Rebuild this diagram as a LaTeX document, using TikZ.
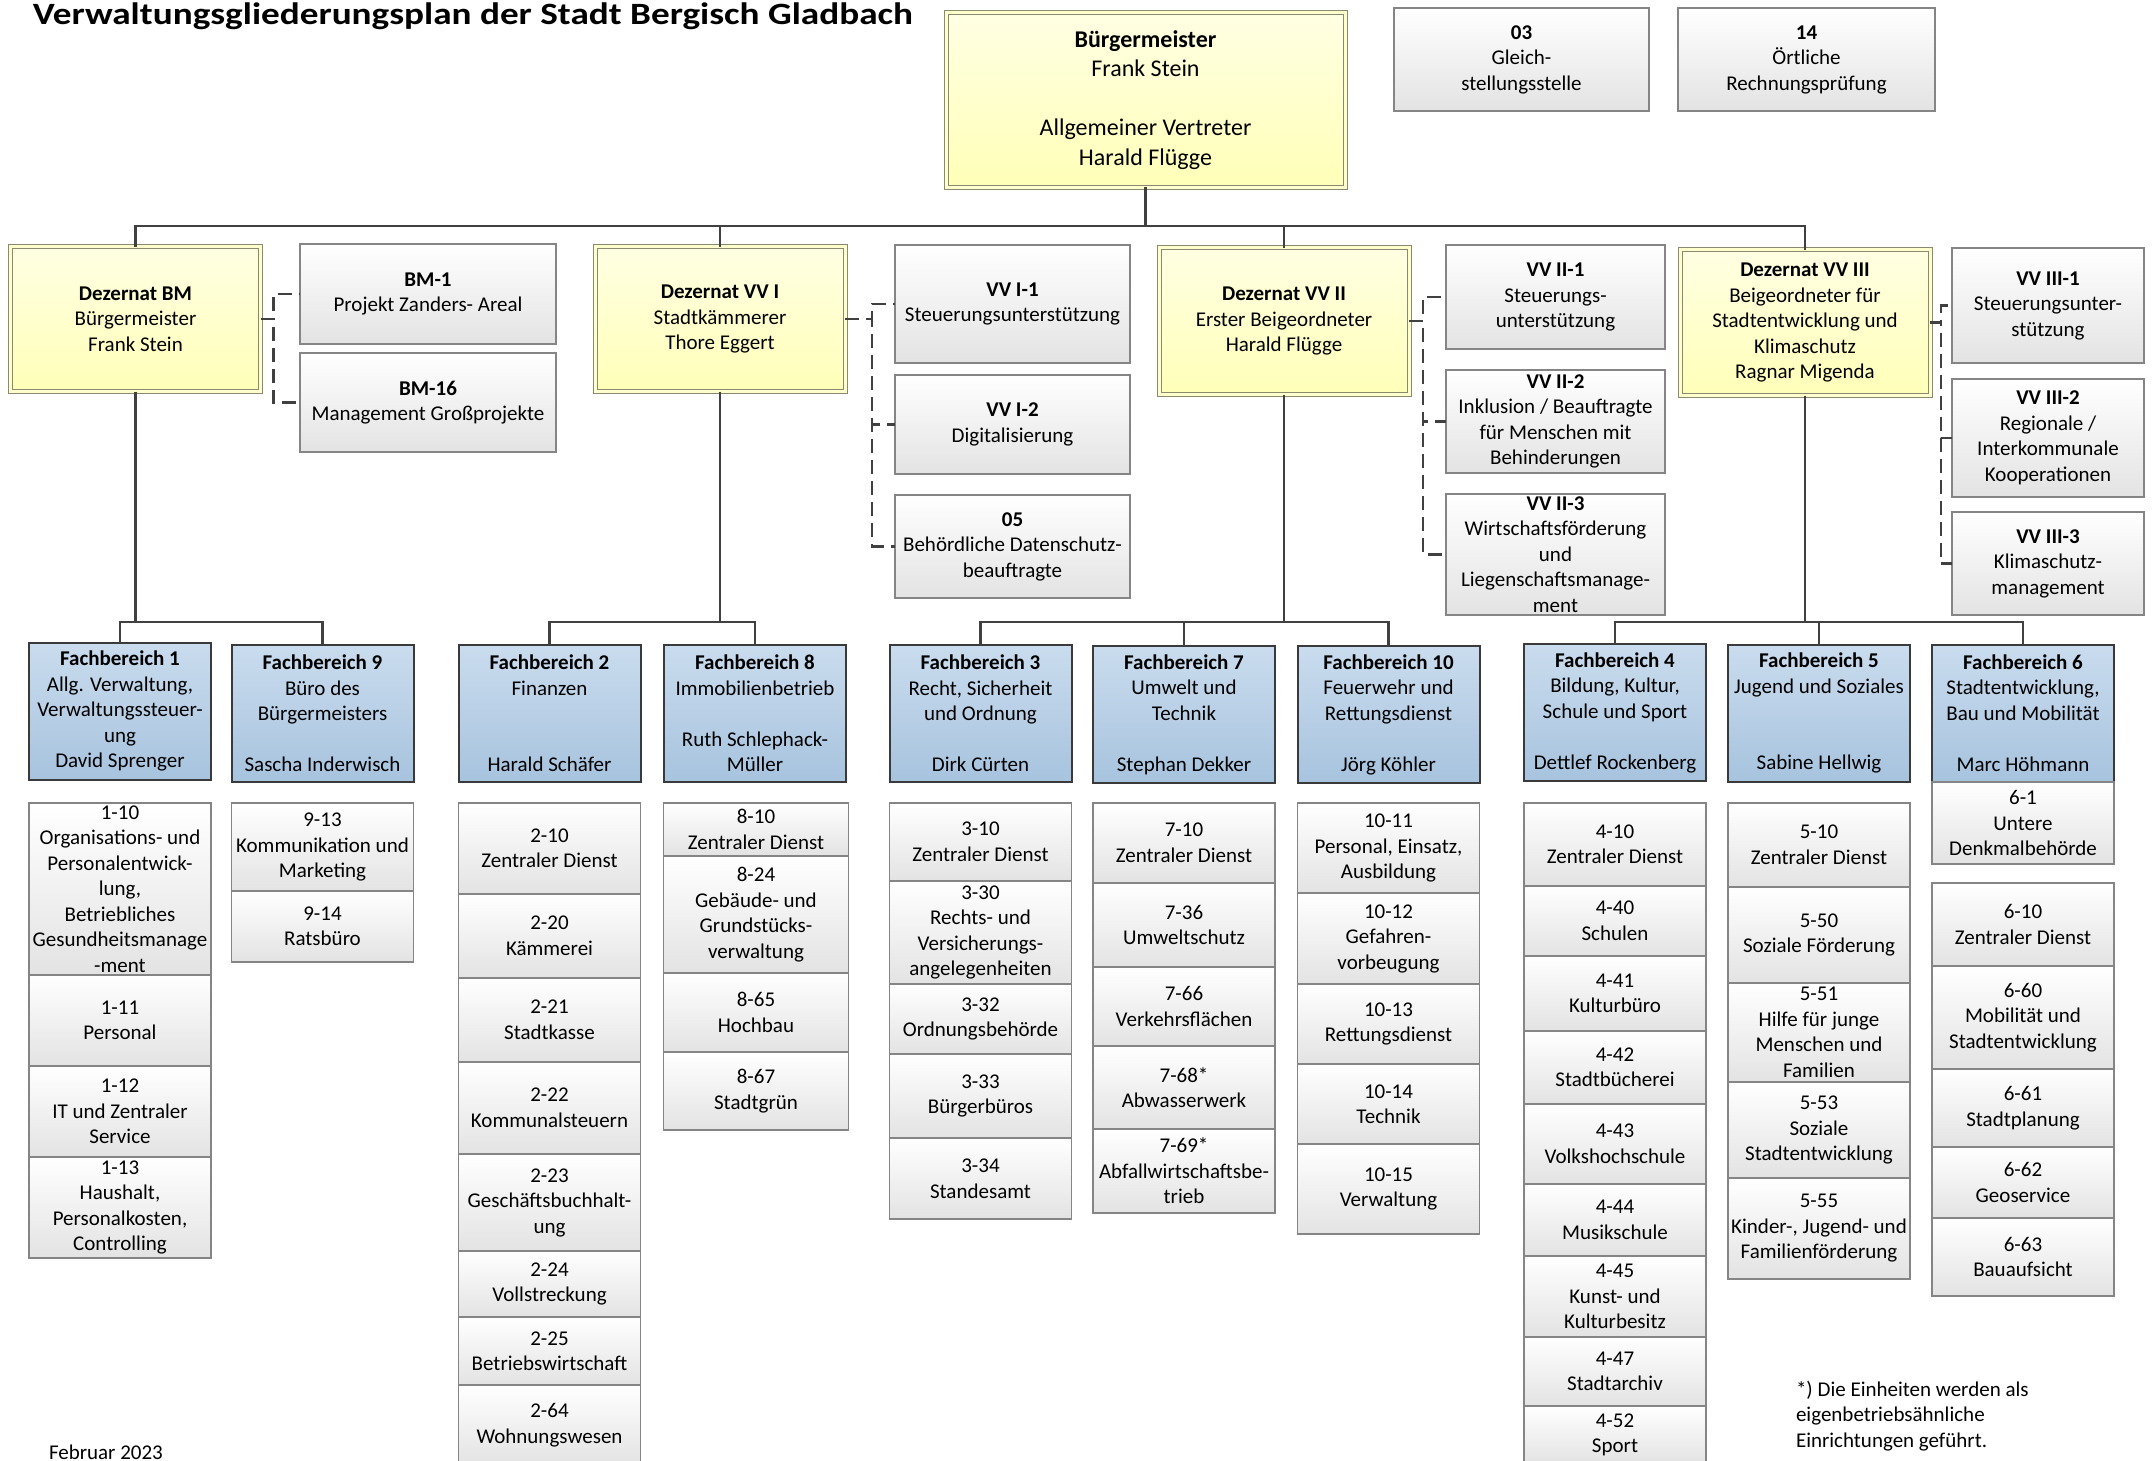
\documentclass[tikz,border=0pt]{standalone}
\usepackage{graphicx}
\usepackage{fontspec}
\setmainfont{Carlito}
\hyphenpenalty=10000
\definecolor{linegray}{HTML}{404040}
\definecolor{boxgray}{HTML}{858585}
\definecolor{unitbottom}{HTML}{E3E3E3}
\definecolor{fbline}{HTML}{3A3A3A}
\definecolor{fbtop}{HTML}{CADCEE}
\definecolor{fbbottom}{HTML}{A7C3DE}
\definecolor{deztop}{HTML}{FFFFE3}
\definecolor{dezbottom}{HTML}{FFFFB8}
\definecolor{dezline}{HTML}{8A8A70}

\tikzset{every picture/.style={line width=1pt}}
\tikzset{
  orgbox/.style={inner sep=0pt, outer sep=0pt, align=center, font=\fontsize{21}{25.5}\selectfont},
  dez/.style={orgbox, draw=dezline, line width=1pt, double=deztop!50!dezbottom, double distance=3pt,
    top color=deztop, bottom color=dezbottom, minimum width=250pt},
  staff/.style={orgbox, draw=boxgray, line width=1.2pt, top color=white, bottom color=unitbottom},
  fb/.style={orgbox, draw=fbline, line width=2pt, top color=fbtop, bottom color=fbbottom,
    minimum width=182pt, minimum height=137pt},
  unit/.style={staff, minimum width=182pt},
  link/.style={draw=linegray, line width=2.5pt},
  stafflink/.style={link, dash pattern=on 14pt off 7pt},
}

\begin{document}
\begin{tikzpicture}[x=1pt,y=1pt,yscale=-1,xscale=1]
\useasboundingbox (0,0) rectangle (2155,1461);

% Title
\node[anchor=base west, font=\fontsize{31}{37}\selectfont\bfseries] (title) at (29,25) {\scalebox{1.2}[1]{Verwaltungsgliederungsplan der Stadt Bergisch Gladbach}};

% Buergermeister
\node[dez, minimum width=399pt, minimum height=174pt, font=\fontsize{24}{29.5}\selectfont] (bm) at (1145.5,100) {\textbf{Bürgermeister}\\Frank Stein\\~\\Allgemeiner Vertreter\\Harald Flügge};
\node[staff, minimum width=255pt, minimum height=103pt] (s03) at (1521.5,59.5) {\textbf{03}\\Gleich-\\stellungsstelle};
\node[staff, minimum width=257pt, minimum height=103pt] (s14) at (1806.5,59.5) {\textbf{14}\\Örtliche\\Rechnungsprüfung};

% Dezernate
\node[dez, minimum height=145pt] (dbm) at (135.5,319) {\textbf{Dezernat BM}\\Bürgermeister\\Frank Stein};
\node[dez, minimum height=145pt] (dvv1) at (720,319) {\textbf{Dezernat VV I}\\Stadtkämmerer\\Thore Eggert};
\node[dez, minimum height=147pt] (dvv2) at (1284,321) {\textbf{Dezernat VV II}\\Erster Beigeordneter\\Harald Flügge};
\node[dez, minimum height=146pt] (dvv3) at (1805,322.5) {\textbf{Dezernat VV III}\\Beigeordneter für\\Stadtentwicklung und\\Klimaschutz\\Ragnar Migenda};

% Stabsstellen
\node[staff, minimum width=256pt, minimum height=100pt] (bm1) at (428,294) {\textbf{BM-1}\\Projekt Zanders- Areal};
\node[staff, minimum width=256pt, minimum height=99pt] (bm16) at (428,402.5) {\textbf{BM-16}\\Management Großprojekte};
\node[staff, minimum width=235pt, minimum height=118pt] (vv1a) at (1012.5,304) {\textbf{VV I-1}\\Steuerungsunterstützung};
\node[staff, minimum width=235pt, minimum height=99pt] (vv1b) at (1012.5,424.5) {\textbf{VV I-2}\\Digitalisierung};
\node[staff, minimum width=235pt, minimum height=103pt] (s05) at (1012.5,546.5) {\textbf{05}\\Behördliche Datenschutz-\\beauftragte};
\node[staff, minimum width=219pt, minimum height=104pt] (vv2a) at (1555.5,297) {\textbf{VV II-1}\\Steuerungs-\\unterstützung};
\node[staff, minimum width=219pt, minimum height=103pt] (vv2b) at (1555.5,421.5) {\textbf{VV II-2}\\Inklusion / Beauftragte\\für Menschen mit\\Behinderungen};
\node[staff, minimum width=219pt, minimum height=121pt] (vv2c) at (1555.5,554.5) {\textbf{VV II-3}\\Wirtschaftsförderung\\und\\Liegenschaftsmanage-\\ment};
\node[staff, minimum width=192pt, minimum height=115pt] (vv3a) at (2048,305.5) {\textbf{VV III-1}\\Steuerungsunter-\\stützung};
\node[staff, minimum width=192pt, minimum height=118pt] (vv3b) at (2048,438) {\textbf{VV III-2}\\Regionale /\\Interkommunale\\Kooperationen};
\node[staff, minimum width=192pt, minimum height=103pt] (vv3c) at (2048,563.5) {\textbf{VV III-3}\\Klimaschutz-\\management};

% Fachbereiche
\node[fb] (fb1) at (120,711) {\textbf{Fachbereich 1}\\Allg. Verwaltung,\\Verwaltungssteuer-\\ung\\David Sprenger};
\node[fb] (fb9) at (322.5,713.5) {\textbf{Fachbereich 9}\\Büro des\\Bürgermeisters\\~\\Sascha Inderwisch};
\node[fb] (fb2) at (549.5,713.5) {\textbf{Fachbereich 2}\\Finanzen\\~\\~\\Harald Schäfer};
\node[fb] (fb8) at (755,713.5) {\textbf{Fachbereich 8}\\Immobilienbetrieb\\~\\Ruth Schlephack-\\Müller};
\node[fb] (fb3) at (980.5,713.5) {\textbf{Fachbereich 3}\\Recht, Sicherheit\\und Ordnung\\~\\Dirk Cürten};
\node[fb] (fb7) at (1184,714.5) {\textbf{Fachbereich 7}\\Umwelt und\\Technik\\~\\Stephan Dekker};
\node[fb] (fb10) at (1388.5,714.5) {\textbf{Fachbereich 10}\\Feuerwehr und\\Rettungsdienst\\~\\Jörg Köhler};
\node[fb] (fb4) at (1615,712.5) {\textbf{Fachbereich 4}\\Bildung, Kultur,\\Schule und Sport\\~\\Dettlef Rockenberg};
\node[fb] (fb5) at (1819,713) {\textbf{Fachbereich 5}\\Jugend und Soziales\\~\\~\\Sabine Hellwig};
\node[fb] (fb6) at (2023,713) {\textbf{Fachbereich 6}\\Stadtentwicklung,\\Bau und Mobilität\\~\\Marc Höhmann};

% Abteilungen FB 1
\node[unit, minimum height=172pt] (u110) at (120,889) {1-10\\Organisations- und\\Personalentwick-\\lung,\\Betriebliches\\Gesundheitsmanage\\-ment};
\node[unit, minimum height=91pt] (u111) at (120,1020.5) {1-11\\Personal};
\node[unit, minimum height=91pt] (u112) at (120,1111.5) {1-12\\IT und Zentraler\\Service};
\node[unit, minimum height=101pt] (u113) at (120,1207.5) {1-13\\Haushalt,\\Personalkosten,\\Controlling};
% FB 9
\node[unit, minimum height=88pt] (u913) at (322.5,847) {9-13\\Kommunikation und\\Marketing};
\node[unit, minimum height=71pt] (u914) at (322.5,926.5) {9-14\\Ratsbüro};
% FB 2
\node[unit, minimum height=91pt] (u210) at (549.5,848.5) {2-10\\Zentraler Dienst};
\node[unit, minimum height=84pt] (u220) at (549.5,936) {2-20\\Kämmerei};
\node[unit, minimum height=84pt] (u221) at (549.5,1020) {2-21\\Stadtkasse};
\node[unit, minimum height=92pt] (u222) at (549.5,1108) {2-22\\Kommunalsteuern};
\node[unit, minimum height=97pt] (u223) at (549.5,1202.5) {2-23\\Geschäftsbuchhalt-\\ung};
\node[unit, minimum height=66pt] (u224) at (549.5,1284) {2-24\\Vollstreckung};
\node[unit, minimum height=68pt] (u225) at (549.5,1351) {2-25\\Betriebswirtschaft};
\node[unit, minimum height=80pt] (u264) at (549.5,1425) {2-64\\Wohnungswesen};
% FB 8
\node[unit, minimum width=185pt, minimum height=53pt] (u810) at (756,829.5) {8-10\\Zentraler Dienst};
\node[unit, minimum width=185pt, minimum height=117pt] (u824) at (756,914.5) {8-24\\Gebäude- und\\Grundstücks-\\verwaltung};
\node[unit, minimum width=185pt, minimum height=79pt] (u865) at (756,1012.5) {8-65\\Hochbau};
\node[unit, minimum width=185pt, minimum height=78pt] (u867) at (756,1091) {8-67\\Stadtgrün};
% FB 3
\node[unit, minimum height=78pt] (u310) at (980.5,842) {3-10\\Zentraler Dienst};
\node[unit, minimum height=103pt] (u330) at (980.5,932.5) {3-30\\Rechts- und\\Versicherungs-\\angelegenheiten};
\node[unit, minimum height=70pt] (u332) at (980.5,1019) {3-32\\Ordnungsbehörde};
\node[unit, minimum height=84pt] (u333) at (980.5,1096) {3-33\\Bürgerbüros};
\node[unit, minimum height=81pt] (u334) at (980.5,1178.5) {3-34\\Standesamt};
% FB 7
\node[unit, minimum height=80pt] (u710) at (1184,843) {7-10\\Zentraler Dienst};
\node[unit, minimum height=84pt] (u736) at (1184,925) {7-36\\Umweltschutz};
\node[unit, minimum height=79pt] (u766) at (1184,1006.5) {7-66\\Verkehrsflächen};
\node[unit, minimum height=83pt] (u768) at (1184,1087.5) {7-68*\\Abwasserwerk};
\node[unit, minimum height=84pt] (u769) at (1184,1171) {7-69*\\Abfallwirtschaftsbe-\\trieb};
% FB 10
\node[unit, minimum height=90pt] (u1011) at (1388.5,848) {10-11\\Personal, Einsatz,\\Ausbildung};
\node[unit, minimum height=91pt] (u1012) at (1388.5,938.5) {10-12\\Gefahren-\\vorbeugung};
\node[unit, minimum height=80pt] (u1013) at (1388.5,1024) {10-13\\Rettungsdienst};
\node[unit, minimum height=80pt] (u1014) at (1388.5,1104) {10-14\\Technik};
\node[unit, minimum height=90pt] (u1015) at (1388.5,1189) {10-15\\Verwaltung};
% FB 4
\node[unit, minimum height=83pt] (u410) at (1615,844.5) {4-10\\Zentraler Dienst};
\node[unit, minimum height=70pt] (u440) at (1615,921) {4-40\\Schulen};
\node[unit, minimum height=75pt] (u441) at (1615,993.5) {4-41\\Kulturbüro};
\node[unit, minimum height=73pt] (u442) at (1615,1067.5) {4-42\\Stadtbücherei};
\node[unit, minimum height=80pt] (u443) at (1615,1144) {4-43\\Volkshochschule};
\node[unit, minimum height=72pt] (u444) at (1615,1220) {4-44\\Musikschule};
\node[unit, minimum height=81pt] (u445) at (1615,1296.5) {4-45\\Kunst- und\\Kulturbesitz};
\node[unit, minimum height=69pt] (u447) at (1615,1371.5) {4-47\\Stadtarchiv};
\node[unit, minimum height=58pt] (u452) at (1615,1435) {4-52\\Sport};
% FB 5
\node[unit, minimum height=84pt] (u510) at (1819,845) {5-10\\Zentraler Dienst};
\node[unit, minimum height=96pt] (u550) at (1819,935) {5-50\\Soziale Förderung};
\node[unit, minimum height=99pt] (u551) at (1819,1032.5) {5-51\\Hilfe für junge\\Menschen und\\Familien};
\node[unit, minimum height=96pt] (u553) at (1819,1130) {5-53\\Soziale\\Stadtentwicklung};
\node[unit, minimum height=101pt] (u555) at (1819,1228.5) {5-55\\Kinder-, Jugend- und\\Familienförderung};
% FB 6
\node[unit, minimum height=82pt] (u61) at (2023,823) {6-1\\Untere\\Denkmalbehörde};
\node[unit, minimum height=83pt] (u610) at (2023,924.5) {6-10\\Zentraler Dienst};
\node[unit, minimum height=103pt] (u660) at (2023,1017.5) {6-60\\Mobilität und\\Stadtentwicklung};
\node[unit, minimum height=78pt] (u661) at (2023,1108) {6-61\\Stadtplanung};
\node[unit, minimum height=71pt] (u662) at (2023,1182.5) {6-62\\Geoservice};
\node[unit, minimum height=78pt] (u663) at (2023,1257) {6-63\\Bauaufsicht};

% Notes
\node[orgbox, anchor=north west, align=left] (note) at (1796,1381) {*) Die Einheiten werden als\\eigenbetriebsähnliche\\Einrichtungen geführt.};
\node[orgbox, anchor=base west] (date) at (49,1459) {Februar 2023};

% Connections
\coordinate (bus0) at (0,226);
\coordinate (bus1) at (0,622);
\draw[link] (bm.south) -- (bm.south |- bus0);
\draw[link] (dbm.north) -- (dbm.north |- bus0) -| (dvv3.north);
\draw[link] (dvv1.north) -- (dvv1.north |- bus0);
\draw[link] (dvv2.north) -- (dvv2.north |- bus0);

\draw[stafflink] (dbm.east) -- ++(13,0) |- (bm1.west);
\draw[stafflink] (dbm.east) -- ++(13,0) |- (bm16.west);
\draw[stafflink] (dvv1.east) -- ++(27,0) |- (vv1a.west);
\draw[stafflink] (dvv1.east) -- ++(27,0) |- (vv1b.west);
\draw[stafflink] (dvv1.east) -- ++(27,0) |- (s05.west);
\draw[stafflink] (dvv2.east) -- ++(14,0) |- (vv2a.west);
\draw[stafflink] (dvv2.east) -- ++(14,0) |- (vv2b.west);
\draw[stafflink] (dvv2.east) -- ++(14,0) |- (vv2c.west);
\draw[stafflink] (dvv3.east) -- ++(11,0) |- (vv3a.west);
\draw[stafflink] (dvv3.east) -- ++(11,0) |- (vv3b.west);
\draw[stafflink] (dvv3.east) -- ++(11,0) |- (vv3c.west);

\draw[link] (dbm.south) -- (dbm.south |- bus1);
\draw[link] (fb1.north) -- (fb1.north |- bus1) -| (fb9.north);
\draw[link] (dvv1.south) -- (dvv1.south |- bus1);
\draw[link] (fb2.north) -- (fb2.north |- bus1) -| (fb8.north);
\draw[link] (dvv2.south) -- (dvv2.south |- bus1);
\draw[link] (fb3.north) -- (fb3.north |- bus1) -| (fb10.north);
\draw[link] (fb7.north) -- (fb7.north |- bus1);
\draw[link] (dvv3.south) -- (dvv3.south |- bus1);
\draw[link] (fb4.north) -- (fb4.north |- bus1) -| (fb6.north);
\draw[link] (fb5.north) -- (fb5.north |- bus1);

\end{tikzpicture}
\end{document}
